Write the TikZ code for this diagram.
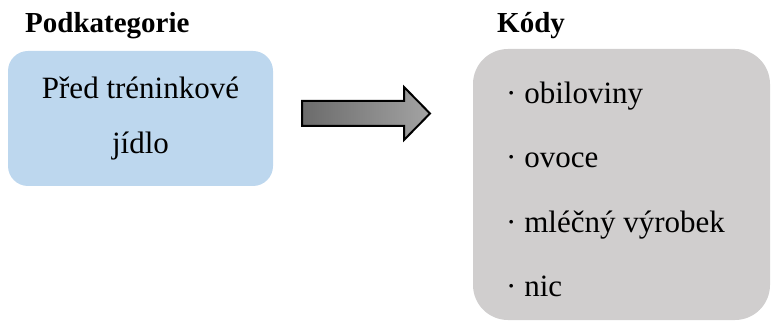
\documentclass[tikz,border=0pt]{standalone}
\usepackage{fontspec}
\setmainfont{Liberation Serif}
\usetikzlibrary{positioning}
\definecolor{subblue}{HTML}{BDD7EE}
\definecolor{codegray}{HTML}{D0CECE}
\tikzset{
  header/.style={anchor=base west,font=\fontsize{29}{31}\selectfont\bfseries},
  item/.style={anchor=base west,font=\fontsize{31}{33}\selectfont}
}

\begin{document}
\begin{tikzpicture}[x=1pt,y=-1pt]
   \useasboundingbox (0,0) rectangle (774,323);
   \begin{scope}[every node/.style={inner sep=0pt}]
    \node[header] (head1) at (25,33) {Podkategorie};
    \node[header] (head2) at (497,33) {Kódy};
    \node[fill=subblue,rounded corners=20pt,minimum width=265pt,minimum height=135pt,
          align=center,font=\fontsize{31}{55}\selectfont] (sub) at (140.5,118.5) {Před tréninkové\\jídlo};
    \node[fill=codegray,rounded corners=35pt,minimum width=297pt,minimum height=271pt] (codes) at (621.5,184.5) {};
    \node[item] (c1) at (506,104) {\textperiodcentered\ obiloviny};
    \node[item] (c2) at (506,168) {\textperiodcentered\ ovoce};
    \node[item] (c3) at (506,233) {\textperiodcentered\ mléčný výrobek};
    \node[item] (c4) at (506,296) {\textperiodcentered\ nic};
   \end{scope}
   \draw[line width=2pt,line join=miter,left color=black!58,right color=black!36]
     (302,101) -- (404,101) -- (404,87) -- (430,113.5) -- (404,140) -- (404,126) -- (302,126) -- cycle;
\end{tikzpicture}
\end{document}
